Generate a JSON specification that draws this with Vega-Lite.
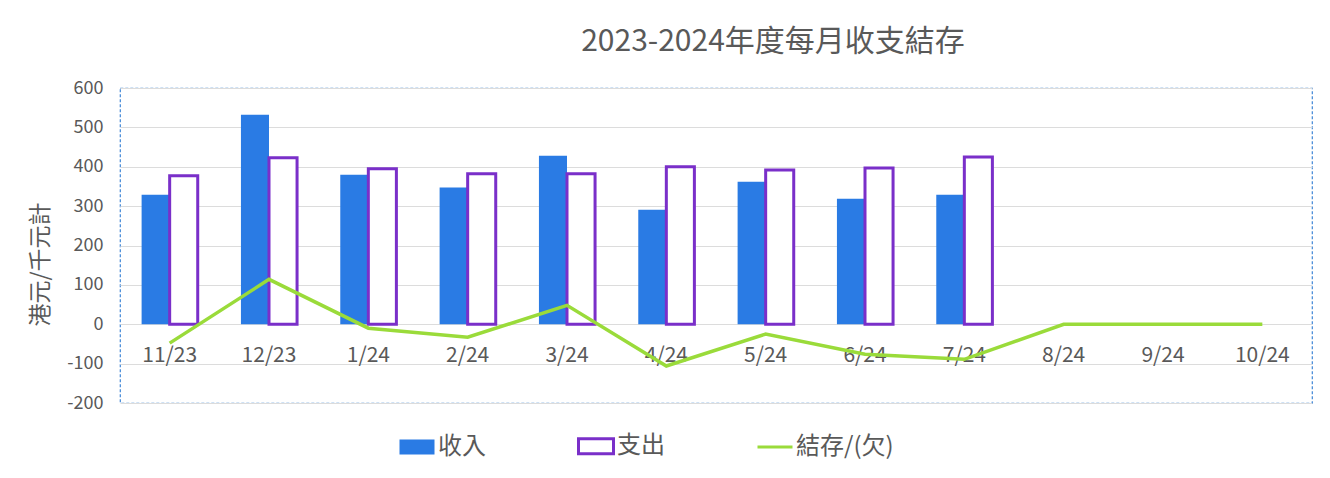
{
  "$schema": "https://vega.github.io/schema/vega-lite/v6.json",
  "width": 1192,
  "height": 315,
  "autosize": {"type": "none"},
  "padding": {"left": 120, "top": 88, "right": 18, "bottom": 75},
  "background": "white",
  "config": {
    "font": "Noto Sans CJK TC",
    "view": {"stroke": "#3F86D6", "strokeDash": [3, 2], "strokeWidth": 1.2}
  },
  "title": {
    "text": "2023-2024年度每月收支結存",
    "fontSize": 30,
    "fontWeight": "normal",
    "color": "#595959",
    "dx": 57,
    "offset": 22
  },
  "datasets": {
    "bars": [
      {"month": "11/23", "series": "收入", "value": 329},
      {"month": "11/23", "series": "支出", "value": 377},
      {"month": "12/23", "series": "收入", "value": 532},
      {"month": "12/23", "series": "支出", "value": 423},
      {"month": "1/24", "series": "收入", "value": 380},
      {"month": "1/24", "series": "支出", "value": 395},
      {"month": "2/24", "series": "收入", "value": 347},
      {"month": "2/24", "series": "支出", "value": 382},
      {"month": "3/24", "series": "收入", "value": 428},
      {"month": "3/24", "series": "支出", "value": 382},
      {"month": "4/24", "series": "收入", "value": 291},
      {"month": "4/24", "series": "支出", "value": 400},
      {"month": "5/24", "series": "收入", "value": 362},
      {"month": "5/24", "series": "支出", "value": 392},
      {"month": "6/24", "series": "收入", "value": 319},
      {"month": "6/24", "series": "支出", "value": 397},
      {"month": "7/24", "series": "收入", "value": 329},
      {"month": "7/24", "series": "支出", "value": 425}
    ],
    "balance": [
      {"month": "11/23", "series": "結存/(欠)", "value": -48},
      {"month": "12/23", "series": "結存/(欠)", "value": 114},
      {"month": "1/24", "series": "結存/(欠)", "value": -10},
      {"month": "2/24", "series": "結存/(欠)", "value": -33},
      {"month": "3/24", "series": "結存/(欠)", "value": 48},
      {"month": "4/24", "series": "結存/(欠)", "value": -106},
      {"month": "5/24", "series": "結存/(欠)", "value": -25},
      {"month": "6/24", "series": "結存/(欠)", "value": -76},
      {"month": "7/24", "series": "結存/(欠)", "value": -89},
      {"month": "8/24", "series": "結存/(欠)", "value": 0},
      {"month": "9/24", "series": "結存/(欠)", "value": 0},
      {"month": "10/24", "series": "結存/(欠)", "value": 0}
    ]
  },
  "encoding": {
    "x": {
      "field": "month",
      "type": "ordinal",
      "sort": ["11/23", "12/23", "1/24", "2/24", "3/24", "4/24", "5/24", "6/24", "7/24", "8/24", "9/24", "10/24"],
      "scale": {
        "domain": ["11/23", "12/23", "1/24", "2/24", "3/24", "4/24", "5/24", "6/24", "7/24", "8/24", "9/24", "10/24"],
        "paddingInner": 0,
        "paddingOuter": 0
      },
      "axis": {
        "title": null,
        "orient": "bottom",
        "offset": -79,
        "domain": false,
        "ticks": false,
        "grid": false,
        "labelAngle": 0,
        "labelFontSize": 21,
        "labelColor": "#595959",
        "labelPadding": 20
      }
    },
    "y": {
      "field": "value",
      "type": "quantitative",
      "scale": {"domain": [-200, 600], "nice": false, "zero": false},
      "axis": {
        "title": "港元/千元計",
        "titleFontSize": 23,
        "titleFontWeight": "normal",
        "titleColor": "#595959",
        "titleY": 176,
        "titleX": -80,
        "titleAlign": "center",
        "titleBaseline": "middle",
        "titleAngle": -90,
        "values": [-200, -100, 0, 100, 200, 300, 400, 500, 600],
        "labelExpr": "'' + datum.value",
        "labelFontSize": 18,
        "labelColor": "#595959",
        "labelPadding": 17,
        "domain": false,
        "ticks": false,
        "grid": true,
        "gridColor": "#DCDCDC",
        "gridWidth": 1
      }
    }
  },
  "layer": [
    {
      "data": {"name": "bars"},
      "mark": {"type": "bar"},
      "encoding": {
        "xOffset": {
          "field": "series",
          "type": "nominal",
          "scale": {"domain": ["收入", "支出"], "paddingInner": 0, "paddingOuter": 0.77}
        },
        "fill": {
          "field": "series",
          "type": "nominal",
          "scale": {"domain": ["收入", "支出"], "range": ["#2A7BE4", "#FFFFFF"]},
          "legend": null
        },
        "stroke": {
          "field": "series",
          "type": "nominal",
          "scale": {"domain": ["收入", "支出"], "range": ["#2A7BE4", "#7A2FC9"]},
          "legend": null
        },
        "strokeWidth": {
          "condition": {"test": "datum.series === '支出'", "value": 3},
          "value": 0
        }
      }
    },
    {
      "data": {"name": "balance"},
      "mark": {"type": "line", "strokeWidth": 3.5},
      "encoding": {
        "color": {
          "field": "series",
          "type": "nominal",
          "scale": {"domain": ["收入", "支出", "結存/(欠)"], "range": ["#2A7BE4", "#7A2FC9", "#9ADB3A"]},
          "legend": {
            "title": null,
            "orient": "none",
            "direction": "horizontal",
            "legendX": 285,
            "legendY": 346,
            "labelFontSize": 24,
            "labelColor": "#595959",
            "labelOffset": 9,
            "columnPadding": 86,
            "symbolSize": 1225,
            "encode": {
              "symbols": {
                "update": {
                  "shape": {"signal": "datum.value === '結存/(欠)' ? 'M-1,0H1' : 'M-1,-0.43H1V0.43H-1Z'"},
                  "fill": {"signal": "datum.value === '收入' ? '#2A7BE4' : datum.value === '支出' ? '#FFFFFF' : 'transparent'"},
                  "stroke": {"signal": "datum.value === '收入' ? '#2A7BE4' : datum.value === '支出' ? '#7A2FC9' : '#9ADB3A'"},
                  "strokeWidth": {"signal": "datum.value === '收入' ? 0 : 3"},
                  "opacity": {"value": 1},
                  "fillOpacity": {"value": 1},
                  "strokeOpacity": {"value": 1}
                }
              }
            }
          }
        }
      }
    }
  ]
}
